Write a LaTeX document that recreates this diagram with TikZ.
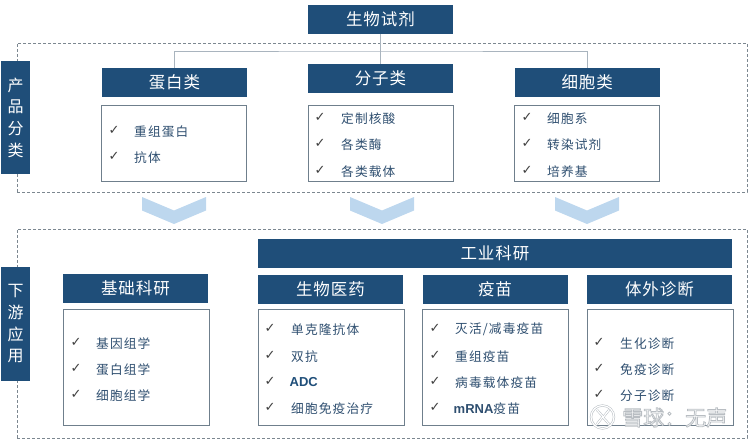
\documentclass[tikz,border=0pt]{standalone}
\usepackage{fontspec}
\setmainfont{Noto Sans CJK SC}
\newfontfamily\latinb{Liberation Sans}
\newfontfamily\symb{DejaVu Sans}
\newfontfamily\hfont[LetterSpace=6]{Noto Sans CJK SC}
\newfontfamily\ifont[LetterSpace=9]{Noto Sans CJK SC}
\definecolor{navy}{HTML}{1F4E79}
\definecolor{boxline}{HTML}{6F7F8C}
\definecolor{chev}{HTML}{BDD7EE}
\definecolor{conn}{HTML}{A9B4BE}
\definecolor{dash}{HTML}{7C8790}
\definecolor{itemc}{HTML}{2F4F70}
\definecolor{wmline}{HTML}{B4BBC1}
\tikzset{
 hdr/.style={fill=navy,text=white,font=\hfont\fontsize{16.5}{18}\selectfont,inner sep=0pt,outer sep=0pt,anchor=north west,align=center},
 side/.style={fill=navy,text=white,font=\fontsize{16}{21.7}\selectfont,inner sep=0pt,outer sep=0pt,anchor=north west,align=center,minimum width=29pt},
 listbox/.style={draw=boxline,line width=0.9pt,fill=white,inner sep=0pt,outer sep=0pt,anchor=north west},
 dashbox/.style={draw=dash,line width=0.9pt,densely dashed,inner sep=0pt,outer sep=0pt,anchor=north west},
 item/.style={text=itemc,font=\ifont\fontsize{12.7}{14}\selectfont,anchor=west,inner sep=0pt},
 itemb/.style={text=navy,font=\latinb\bfseries\fontsize{13}{15}\selectfont,anchor=west,inner sep=0pt},
 tick/.style={text=black!75,font=\symb\fontsize{13}{15}\selectfont,anchor=center,inner sep=0pt},
 conline/.style={draw=conn,line width=0.9pt},
 chevron/.style={fill=chev,draw=none},
 wm/.style={font=\fontsize{21}{23}\selectfont,anchor=west,inner sep=0pt},
 wmback/.style={draw=wmline,line width=2.2pt},
 wmfront/.style={draw=white,line width=1.2pt}
}
\newcommand{\hbx}[6]{\node[hdr,minimum width=#4 pt,minimum height=#5 pt] (#1) at (#2,#3) {#6};}
\newcommand{\lbx}[5]{\node[listbox,minimum width=#4 pt,minimum height=#5 pt] (#1) at (#2,#3) {};}
\newcommand{\itm}[5]{\node[tick] (t#1) at (#2,#3) {✓}; \node[item] (i#1) at (#4,#3+1.7) {#5};}
\newcommand{\chv}[1]{\fill[chevron] (#1,197)--(#1+32,210.5)--(#1+64,197)--(#1+64,210.5)--(#1+32,224)--(#1,210.5)--cycle;}
\begin{document}
\begin{tikzpicture}[x=1pt,y=-1pt]
\useasboundingbox (0,0) rectangle (750,441);
% dashed frames
\node[dashbox,minimum width=730pt,minimum height=149pt] (f1) at (17,43) {};
\node[dashbox,minimum width=730pt,minimum height=209pt] (f2) at (17,229) {};
% connectors
\coordinate (bus) at (380.5,51);
\hbx{top}{308}{5}{145}{29}{生物试剂}
\hbx{a}{102}{68}{145}{29}{蛋白类}
\hbx{b}{308}{64}{145}{29}{分子类}
\hbx{c}{515}{68}{144.5}{29}{细胞类}
\draw[conline] (top.south) -- (b.north);
\draw[conline] (a.north) |- (bus) -| (c.north);
% side labels
\node[side,minimum height=113pt] (s1) at (1,61) {产\\品\\分\\类};
\node[side,minimum height=114pt] (s2) at (1,267) {下\\游\\应\\用};
% top lists
\lbx{la}{101.5}{105}{145}{76}
\lbx{lb}{308}{105}{145}{76}
\lbx{lc}{514}{105}{145.5}{76}
\itm{a1}{114}{130}{134}{重组蛋白}
\itm{a2}{114}{156}{134}{抗体}
\itm{b1}{320}{117}{341}{定制核酸}
\itm{b2}{320}{143}{341}{各类酶}
\itm{b3}{320}{170}{341}{各类载体}
\itm{c1}{527}{117}{547}{细胞系}
\itm{c2}{527}{143}{547}{转染试剂}
\itm{c3}{527}{170}{547}{培养基}
% chevrons
\chv{142}
\chv{350}
\chv{555}
% bottom headers
\hbx{ind}{258}{239}{474}{29}{工业科研}
\hbx{d}{63}{274}{145}{29}{基础科研}
\hbx{e}{258}{275}{145}{28.5}{生物医药}
\hbx{g}{422.5}{275}{145}{28.5}{疫苗}
\hbx{h}{587}{275}{145}{28.5}{体外诊断}
\lbx{ld}{63.5}{309}{145.5}{116}
\lbx{le}{258}{309}{146}{116}
\lbx{lg}{422.5}{309}{145.5}{116}
\lbx{lh}{587}{309}{146}{116}
\itm{d1}{76}{342}{96}{基因组学}
\itm{d2}{76}{368}{96}{蛋白组学}
\itm{d3}{76}{394}{96}{细胞组学}
\itm{e1}{270}{328}{291}{单克隆抗体}
\itm{e2}{270}{355}{291}{双抗}
\node[tick] (te3) at (270,381) {✓};
\node[itemb] (ie3) at (289.5,382) {ADC};
\itm{e4}{270}{407}{291}{细胞免疫治疗}
\itm{g1}{435}{328}{455}{灭活/减毒疫苗}
\itm{g2}{435}{355}{455}{重组疫苗}
\itm{g3}{435}{381}{455}{病毒载体疫苗}
\node[tick] (tg4) at (435,407) {✓};
\node[item] (ig4) at (453.5,408.5) {\latinb\bfseries\fontsize{13}{15}\selectfont mRNA\ifont\mdseries\fontsize{12.7}{14}\selectfont 疫苗};
\itm{h1}{599}{342}{620}{生化诊断}
\itm{h2}{599}{368}{620}{免疫诊断}
\itm{h3}{599}{394}{620}{分子诊断}
% watermark
\foreach \sty in {wmback,wmfront}{
  \draw[\sty] (602.5,417) circle (11.5);
  \draw[\sty] (597,410) -- (603,416.5) -- (597,424);
  \draw[\sty] (609,410) -- (603,417.5) -- (609,424);
}
\node[wm] (wmt) at (622,417.5) {\textcolor{white}{\special{pdf:code 2 Tr 0.8 w 0.72 0.74 0.76 RG}雪球：无声}\special{pdf:code 0 Tr}};
\end{tikzpicture}
\end{document}
